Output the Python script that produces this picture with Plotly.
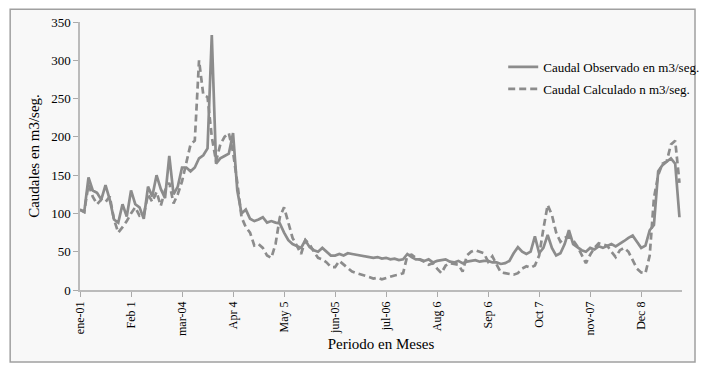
import plotly.graph_objects as go

tick_labels = ["ene-01", "Feb 1", "mar-04", "Apr 4", "May 5", "jun-05", "jul-06",
               "Aug 6", "Sep 6", "Oct 7", "nov-07", "Dec 8"]
points_per_month = 12

observado = [105, 102, 147, 130, 127, 118, 137, 118, 92, 88, 112, 96,
             130, 112, 108, 93, 135, 122, 150, 132, 120, 175, 125, 135,
             160, 160, 155, 160, 172, 176, 185, 333, 165, 172, 175, 178,
             205, 130, 100, 105, 93, 90, 92, 95, 88, 90, 88, 87,
             75, 65, 60, 57, 55, 65, 56, 52, 50, 55, 50, 45,
             45, 47, 45, 48, 47, 46, 45, 44, 43, 42, 43, 41,
             42, 40, 41, 39, 40, 47, 43, 40, 40, 38, 40, 36,
             38, 39, 40, 37, 36, 38, 35, 37, 38, 39, 37, 38,
             38, 36, 36, 34, 35, 38, 48, 56, 50, 47, 50, 70,
             48, 55, 72, 55, 45, 48, 60, 78, 60, 56, 52, 50,
             55, 53, 57, 55, 58, 60, 57, 60, 64, 68, 71, 63,
             55, 58, 78, 85, 155, 163, 168, 172, 165, 95]

calculado = [105, 102, 138, 122, 112, 118, 115, 122, 92, 75, 82, 90,
             100, 108, 97, 98, 125, 115, 128, 110, 130, 140, 113, 125,
             142, 165, 190, 195, 300, 255, 252, 200, 168, 190, 200, 205,
             180, 140, 95, 82, 75, 58, 60, 55, 45, 42, 60, 95,
             108, 88, 68, 58, 47, 65, 60, 50, 42, 40, 36, 30,
             30, 38, 33, 28, 24, 22, 20, 18, 17, 15, 16, 14,
             16, 18, 19, 20, 22, 45, 46, 42, 40, 37, 33, 35,
             28, 22, 32, 35, 34, 33, 24, 45, 50, 52, 50, 48,
             37, 44, 33, 23, 22, 21, 20, 22, 28, 31, 29, 32,
             45, 80, 111, 98, 75, 63, 68, 70, 65, 57, 45, 35,
             46, 55, 61, 60, 58, 50, 43, 52, 55, 50, 40, 28,
             23, 22, 45, 120, 150, 165, 168, 190, 195, 140]

x = list(range(len(observado)))
tick_vals = [i * points_per_month for i in range(len(tick_labels))]

line_color = "#8c8c8c"
font_family = "Liberation Serif, Times New Roman, serif"

fig = go.Figure()
fig.add_trace(go.Scatter(x=x, y=observado, mode="lines",
                         name="Caudal Observado en m3/seg.", legendgroup="obs",
                         line=dict(color=line_color, width=2.7)))
fig.add_trace(go.Scatter(x=x, y=calculado, mode="lines",
                         name="Caudal Calculado n m3/seg.", legendgroup="cal",
                         line=dict(color=line_color, width=2.7, dash="7px,4px")))

fig.update_layout(
    width=710, height=377,
    margin=dict(l=72, r=36, t=14, b=95, autoexpand=False),
    paper_bgcolor="white",
    plot_bgcolor="#f8f8f8",
    font=dict(family=font_family, size=13, color="black"),
    showlegend=True,
    legend=dict(x=0.703, y=0.888, xanchor="left", yanchor="top",
                bgcolor="rgba(0,0,0,0)", font=dict(size=13),
                itemwidth=30, tracegroupgap=2, traceorder="grouped"),
    shapes=[dict(type="rect", xref="paper", yref="paper",
                 x0=-0.116, x1=1.0216, y0=-0.269, y1=1.048,
                 line=dict(color="#a0a0a0", width=1.5),
                 fillcolor="#f8f8f8", layer="below")],
)
fig.update_xaxes(range=[0, 141.6], tickvals=tick_vals, ticktext=tick_labels,
                 tickangle=-90, ticks="outside", ticklen=5, tickcolor="#aaaaaa",
                 tickfont=dict(size=12),
                 showline=True, linecolor="#bbbbbb", linewidth=1.5,
                 showgrid=False, zeroline=False, automargin=False,
                 title=dict(text="Periodo en Meses", font=dict(size=15), standoff=4))
fig.update_yaxes(range=[0, 350], tickvals=list(range(0, 351, 50)),
                 ticks="outside", ticklen=5, tickcolor="#aaaaaa",
                 tickfont=dict(size=13),
                 showline=True, linecolor="#bbbbbb", linewidth=1.5,
                 showgrid=False, zeroline=False, automargin=False,
                 title=dict(text="Caudales en m3/seg.", font=dict(size=15), standoff=8))

fig.write_html("out.html")
